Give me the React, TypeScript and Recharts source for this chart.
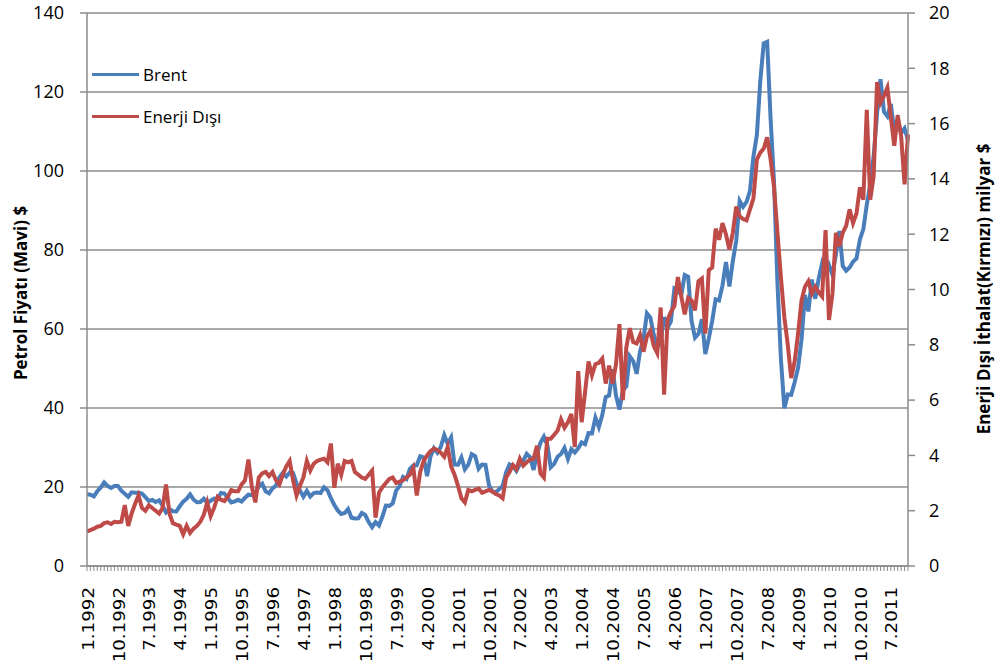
import React from "react";
import { LineChart, Line, XAxis, YAxis, CartesianGrid } from "recharts";

// aylık veriler, 1.1992 - 12.2011
const startYear = 1992;
const yearCount = 20;

// Brent petrol fiyatı ($/varil) — sol eksen
const brent = [
  18.16, 18.05, 17.63, 18.92, 19.89, 21.16, 20.25, 19.74, 20.27, 20.28, 19.07, 18.26, // 1992
  17.51, 18.64, 18.56, 18.56, 18.35, 17.45, 16.46, 16.72, 16.21, 16.64, 15.26, 13.58, // 1993
  14.42, 13.88, 13.82, 15.12, 16.29, 17.03, 18.11, 16.85, 16.14, 16.21, 17.02, 15.96, // 1994
  16.53, 17.07, 16.96, 18.51, 18.35, 17.21, 16.08, 16.35, 16.75, 16.32, 17.27, 18.05, // 1995
  17.92, 18.52, 20.25, 20.87, 18.92, 18.4, 19.65, 20.35, 22.4, 23.58, 22.65, 23.64, // 1996
  23.54, 20.85, 19.13, 17.56, 19.02, 17.58, 18.46, 18.6, 18.46, 19.9, 19.17, 17.16, // 1997
  15.44, 14.07, 13.15, 13.42, 14.4, 12.22, 12.03, 12.06, 13.41, 12.91, 11.11, 9.82, // 1998
  11.12, 10.27, 12.51, 15.29, 15.23, 15.86, 19.08, 20.22, 22.54, 22.01, 24.59, 25.47, // 1999
  25.51, 27.78, 27.49, 22.76, 27.74, 29.8, 28.68, 30.2, 33.14, 30.96, 32.55, 25.66, // 2000
  25.62, 27.5, 24.5, 25.66, 28.31, 27.85, 24.61, 25.68, 25.62, 20.54, 18.8, 18.71, // 2001
  19.42, 20.28, 23.7, 25.73, 25.35, 24.08, 25.74, 26.65, 28.4, 27.54, 24.34, 28.33, // 2002
  31.18, 32.77, 30.61, 25.0, 25.86, 27.65, 28.35, 29.89, 27.11, 29.61, 28.75, 29.81, // 2003
  31.28, 30.86, 33.63, 33.59, 37.57, 35.18, 38.22, 42.74, 43.2, 49.78, 43.11, 39.6, // 2004
  44.51, 45.48, 53.1, 51.88, 48.65, 54.35, 57.52, 63.98, 62.91, 58.54, 55.24, 56.86, // 2005
  62.99, 60.21, 62.06, 70.26, 69.78, 68.56, 73.67, 73.23, 61.96, 57.81, 58.76, 62.47, // 2006
  53.68, 57.56, 62.05, 67.49, 67.21, 71.05, 76.93, 70.76, 77.17, 82.34, 92.41, 90.93, // 2007
  92.18, 94.99, 103.64, 109.07, 122.8, 132.32, 132.72, 113.24, 97.23, 71.58, 52.45, 39.95, // 2008
  43.44, 43.32, 46.54, 50.18, 57.3, 68.61, 64.44, 72.51, 67.65, 72.77, 76.66, 74.46, // 2009
  76.17, 73.75, 78.83, 84.82, 75.95, 74.76, 75.58, 77.04, 77.84, 82.67, 85.28, 91.45, // 2010
  96.52, 103.72, 114.64, 123.26, 114.99, 113.83, 116.97, 110.22, 112.83, 109.55, 110.77, 107.87, // 2011
];

// enerji dışı ithalat (milyar $) — sağ eksen
const enerjiDisi = [
  1.25, 1.3, 1.35, 1.42, 1.45, 1.55, 1.58, 1.52, 1.6, 1.58, 1.6, 2.2, // 1992
  1.45, 1.9, 2.25, 2.55, 2.1, 2.0, 2.2, 2.1, 2.0, 1.9, 2.1, 2.95, // 1993
  1.9, 1.55, 1.5, 1.45, 1.15, 1.45, 1.2, 1.35, 1.45, 1.6, 1.85, 2.3, // 1994
  1.8, 2.1, 2.5, 2.4, 2.35, 2.5, 2.75, 2.7, 2.7, 2.95, 3.1, 3.85, // 1995
  2.85, 2.3, 3.2, 3.35, 3.4, 3.25, 3.4, 3.1, 2.95, 3.3, 3.6, 3.8, // 1996
  3.1, 2.55, 2.9, 3.2, 3.8, 3.45, 3.7, 3.8, 3.85, 3.88, 3.75, 4.43, // 1997
  2.83, 3.7, 3.3, 3.8, 3.75, 3.8, 3.4, 3.3, 3.2, 3.15, 3.3, 3.45, // 1998
  1.75, 2.65, 2.85, 3.0, 3.15, 3.2, 3.0, 3.05, 3.1, 3.2, 3.3, 3.55, // 1999
  2.55, 3.4, 3.8, 4.0, 4.15, 4.25, 4.2, 4.1, 3.95, 4.3, 3.6, 3.3, // 2000
  2.9, 2.45, 2.3, 2.75, 2.7, 2.75, 2.8, 2.65, 2.7, 2.75, 2.7, 2.6, // 2001
  2.55, 2.45, 3.2, 3.4, 3.65, 3.5, 3.88, 3.63, 3.75, 3.85, 3.88, 4.35, // 2002
  3.35, 3.2, 4.6, 4.6, 4.75, 4.9, 5.3, 5.0, 5.2, 5.5, 4.3, 7.05, // 2003
  5.2, 6.3, 7.4, 6.9, 7.3, 7.35, 7.5, 6.6, 7.25, 6.6, 7.3, 8.75, // 2004
  6.0, 7.9, 8.6, 8.1, 8.05, 8.35, 7.75, 8.3, 8.5, 7.95, 7.7, 9.35, // 2005
  6.2, 8.9, 9.2, 9.4, 10.45, 9.75, 9.1, 9.7, 9.6, 9.25, 10.3, 10.4, // 2006
  8.4, 10.7, 10.8, 12.2, 11.8, 12.4, 12.0, 11.45, 12.05, 13.0, 12.65, 12.55, // 2007
  12.5, 12.9, 13.3, 14.7, 14.95, 15.1, 15.5, 14.7, 13.7, 12.05, 10.45, 9.0, // 2008
  8.0, 6.8, 7.4, 8.4, 9.6, 10.1, 10.3, 9.85, 10.1, 9.9, 9.75, 12.15, // 2009
  8.9, 9.85, 12.05, 11.55, 12.05, 12.3, 12.9, 12.4, 12.75, 13.7, 13.25, 16.5, // 2010
  13.25, 14.1, 17.5, 16.75, 17.0, 17.3, 16.25, 15.2, 16.3, 15.55, 13.8, 15.6, // 2011
];

const leftTicks = [0, 20, 40, 60, 80, 100, 120, 140];
const rightTicks = [0, 2, 4, 6, 8, 10, 12, 14, 16, 18, 20];
const labelEvery = 9; // 1.1992, 10.1992, 7.1993 ...

const months: string[] = [];
for (let y = 0; y < yearCount; y++) {
  for (let m = 1; m <= 12; m++) months.push(`${m}.${startYear + y}`);
}

const data = months.map((label, i) => ({
  label,
  brent: brent[i],
  enerji: enerjiDisi[i],
}));

const BLUE = "#4a7ebb";
const RED = "#be4b48";
const GRAY = "#8c8c8c";

const MonthTick = (props: any) => {
  const { x, index, payload } = props;
  if (index % labelEvery !== 0) return <g />;
  return (
    <text
      transform={`translate(${x + 1},587) rotate(-90) scale(1.14,1)`}
      textAnchor="end"
      dominantBaseline="central"
      fontSize={16}
      fontFamily="DejaVu Sans"
      fill="#000"
    >
      {payload.value}
    </text>
  );
};

const titleStyle: React.CSSProperties = {
  position: "absolute",
  transform: "translate(-50%, -50%) rotate(-90deg)",
  whiteSpace: "nowrap",
  fontWeight: 700,
  fontSize: 17,
  lineHeight: "18px",
  color: "#000",
};

export default function App() {
  return (
    <div
      style={{
        position: "absolute",
        left: 0,
        top: 0,
        width: 996,
        height: 666,
        background: "#fff",
        fontFamily: "Open Sans",
      }}
    >
      <LineChart
        width={996}
        height={666}
        data={data}
        margin={{ top: 13, right: 0, bottom: 0, left: 0 }}
      >
        <CartesianGrid vertical={false} yAxisId="left" stroke={GRAY} strokeWidth={1.5} />
        <XAxis
          dataKey="label"
          interval={0}
          height={100}
          tickSize={5}
          tick={<MonthTick />}
          axisLine={{ stroke: GRAY, strokeWidth: 1.5 }}
          tickLine={{ stroke: GRAY }}
        />
        <YAxis
          yAxisId="left"
          width={87}
          domain={[0, 140]}
          ticks={leftTicks}
          tickSize={7}
          tickMargin={16}
          axisLine={{ stroke: GRAY, strokeWidth: 1.5 }}
          tickLine={{ stroke: GRAY, strokeWidth: 1.5 }}
          tick={{ fill: "#000", fontSize: 18, fontFamily: "Open Sans" }}
        />
        <YAxis
          yAxisId="right"
          orientation="right"
          width={88}
          domain={[0, 20]}
          ticks={rightTicks}
          tickSize={7}
          tickMargin={14}
          axisLine={{ stroke: GRAY, strokeWidth: 1.5 }}
          tickLine={{ stroke: GRAY, strokeWidth: 1.5 }}
          tick={{ fill: "#000", fontSize: 18, fontFamily: "Open Sans" }}
        />
        <Line
          yAxisId="left"
          dataKey="brent"
          type="linear"
          stroke={BLUE}
          strokeWidth={4}
          dot={false}
          isAnimationActive={false}
        />
        <Line
          yAxisId="right"
          dataKey="enerji"
          type="linear"
          stroke={RED}
          strokeWidth={4}
          dot={false}
          isAnimationActive={false}
        />
      </LineChart>

      {/* lejant */}
      {[
        { name: "Brent", color: BLUE, y: 74 },
        { name: "Enerji Dışı", color: RED, y: 116 },
      ].map((it) => (
        <div
          key={it.name}
          style={{ position: "absolute", left: 92, top: it.y - 12, height: 24, display: "flex", alignItems: "center" }}
        >
          <div style={{ width: 47, height: 3, background: it.color }} />
          <span style={{ marginLeft: 4, fontSize: 17, color: "#000" }}>{it.name}</span>
        </div>
      ))}

      {/* eksen başlıkları */}
      <div style={{ ...titleStyle, left: 21, top: 293 }}>Petrol Fiyatı (Mavi) $</div>
      <div style={{ ...titleStyle, left: 984, top: 289 }}>Enerji Dışı İthalat(Kırmızı) milyar $</div>
    </div>
  );
}
